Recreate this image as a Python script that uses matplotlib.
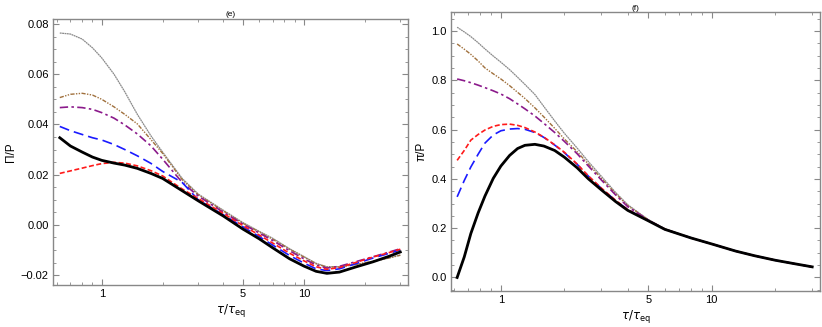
import matplotlib
matplotlib.use("Agg")
import matplotlib.pyplot as plt
from matplotlib.ticker import FixedLocator, NullFormatter, MultipleLocator

plt.rcParams["font.family"] = ["Liberation Sans", "DejaVu Sans"]
plt.rcParams["mathtext.fontset"] = "dejavusans"

# ---- panel (e): Pi/P ----
tau_e = [0.62, 0.7, 0.8, 0.9, 1.0, 1.15, 1.3, 1.5, 1.75, 2.0, 2.5, 3.0, 4.0, 5.0,
         6.0, 7.0, 8.5, 10, 11.5, 13, 15, 18, 22, 26, 30]
e_black = [0.0347, 0.0314, 0.0290, 0.0270, 0.0257, 0.0246, 0.0238, 0.0225, 0.0205, 0.0185,
           0.0136, 0.0096, 0.0035, -0.0017, -0.0055, -0.0091, -0.0135, -0.0164, -0.0185,
           -0.0193, -0.0188, -0.0168, -0.0147, -0.0127, -0.0108]
e_red = [0.0205, 0.0215, 0.0226, 0.0236, 0.0244, 0.0249, 0.0246, 0.0235, 0.0216, 0.0195,
         0.0143, 0.0105, 0.0045, -0.0003, -0.0040, -0.0072, -0.0113, -0.0143, -0.0167,
         -0.0177, -0.0170, -0.0150, -0.0128, -0.0112, -0.0097]
e_blue = [0.0392, 0.0375, 0.0360, 0.0347, 0.0338, 0.0320, 0.0300, 0.0275, 0.0245, 0.0213,
          0.0169, 0.0100, 0.0040, -0.0008, -0.0046, -0.0080, -0.0122, -0.0152, -0.0175,
          -0.0182, -0.0175, -0.0155, -0.0132, -0.0115, -0.0100]
e_purple = [0.0467, 0.0470, 0.0467, 0.0460, 0.0447, 0.0425, 0.0398, 0.0362, 0.0315, 0.0262,
            0.0169, 0.0115, 0.0050, 0.0003, -0.0032, -0.0062, -0.0103, -0.0135, -0.0160,
            -0.0172, -0.0165, -0.0147, -0.0127, -0.0110, -0.0095]
e_brown = [0.0507, 0.0520, 0.0524, 0.0517, 0.0500, 0.0470, 0.0440, 0.0402, 0.0340, 0.0285,
           0.0180, 0.0120, 0.0055, 0.0006, -0.0028, -0.0057, -0.0097, -0.0128, -0.0155,
           -0.0168, -0.0167, -0.0158, -0.0145, -0.0133, -0.0121]
e_gray = [0.0764, 0.0760, 0.0740, 0.0705, 0.0665, 0.0600, 0.0530, 0.0440, 0.0355, 0.0290,
          0.0185, 0.0123, 0.0058, 0.0009, -0.0025, -0.0053, -0.0095, -0.0126, -0.0153,
          -0.0167, -0.0167, -0.0158, -0.0146, -0.0133, -0.0120]

# ---- panel (f): pi/P ----
tau_f = [0.62, 0.67, 0.72, 0.78, 0.84, 0.92, 1.0, 1.1, 1.2, 1.3, 1.45, 1.6, 1.8, 2.0,
         2.3, 2.6, 3.0, 3.5, 4.0, 5.0, 6.0, 8.0, 10, 13, 16, 20, 25, 30]
f_black = [0.0, 0.083, 0.178, 0.262, 0.330, 0.402, 0.452, 0.495, 0.523, 0.536, 0.540, 0.533,
           0.515, 0.488, 0.445, 0.400, 0.355, 0.308, 0.272, 0.230, 0.195, 0.160, 0.136,
           0.107, 0.088, 0.070, 0.055, 0.043]
f_red = [0.475, 0.515, 0.557, 0.580, 0.598, 0.613, 0.620, 0.622, 0.617, 0.608, 0.590, 0.569,
         0.538, 0.508, 0.460, 0.412, 0.362, 0.313, 0.275, 0.231, 0.195, 0.160, 0.136,
         0.107, 0.088, 0.070, 0.055, 0.043]
f_blue = [0.327, 0.393, 0.448, 0.500, 0.545, 0.578, 0.595, 0.602, 0.604, 0.601, 0.588, 0.568,
          0.537, 0.506, 0.459, 0.411, 0.361, 0.312, 0.275, 0.231, 0.195, 0.160, 0.136,
          0.107, 0.088, 0.070, 0.055, 0.043]
f_purple = [0.805, 0.798, 0.790, 0.780, 0.770, 0.757, 0.744, 0.725, 0.704, 0.684, 0.655, 0.625,
            0.588, 0.552, 0.502, 0.452, 0.395, 0.335, 0.287, 0.233, 0.196, 0.160, 0.136,
            0.107, 0.088, 0.070, 0.055, 0.043]
f_brown = [0.947, 0.926, 0.905, 0.878, 0.850, 0.826, 0.805, 0.778, 0.751, 0.726, 0.688, 0.651,
           0.605, 0.562, 0.510, 0.460, 0.402, 0.340, 0.291, 0.234, 0.197, 0.160, 0.136,
           0.107, 0.088, 0.070, 0.055, 0.043]
f_gray = [1.015, 0.996, 0.977, 0.952, 0.927, 0.898, 0.873, 0.843, 0.812, 0.783, 0.742, 0.693,
          0.635, 0.585, 0.525, 0.470, 0.410, 0.345, 0.295, 0.235, 0.197, 0.160, 0.136,
          0.107, 0.088, 0.070, 0.055, 0.043]

styles = [
    ("gray", dict(color="#8a8a8a", lw=0.9, ls=(0, (1.5, 0.4)))),
    ("brown", dict(color="#a0703c", lw=1.0, ls=(0, (3, 1, 1, 1, 1, 1)))),
    ("purple", dict(color="#8b1a8b", lw=1.2, ls=(0, (5, 2, 1.5, 2)))),
    ("blue", dict(color="#1a1aff", lw=1.2, ls=(0, (6, 3)))),
    ("red", dict(color="#ff1a1a", lw=1.2, ls=(0, (3, 1.5)))),
    ("black", dict(color="black", lw=2.0, ls="-")),
]

fig = plt.figure(figsize=(8.22, 3.27), dpi=100)
ax1 = fig.add_axes([0.0645, 0.128, 0.432, 0.814])
ax2 = fig.add_axes([0.5487, 0.110, 0.449, 0.852])

data_e = dict(gray=e_gray, brown=e_brown, purple=e_purple, blue=e_blue, red=e_red, black=e_black)
data_f = dict(gray=f_gray, brown=f_brown, purple=f_purple, blue=f_blue, red=f_red, black=f_black)

for name, st in styles:
    ax1.plot(tau_e, data_e[name], **st)
    ax2.plot(tau_f, data_f[name], **st)

minor_x = [0.6, 0.7, 0.8, 0.9, 2, 3, 4, 6, 7, 8, 9, 20, 30]
for ax in (ax1, ax2):
    ax.set_xscale("log")
    ax.xaxis.set_major_locator(FixedLocator([1, 5, 10]))
    ax.xaxis.set_minor_locator(FixedLocator(minor_x))
    ax.xaxis.set_minor_formatter(NullFormatter())
    ax.set_xticklabels(["1", "5", "10"])
    ax.tick_params(which="both", direction="in", top=True, right=True,
                   color="#888888", labelsize=8, pad=3)
    ax.tick_params(which="major", length=4, width=0.8)
    ax.tick_params(which="minor", length=2.2, width=0.6)
    for s in ax.spines.values():
        s.set_color("#888888")
        s.set_linewidth(1.0)
    ax.set_xlabel(r"$\tau/\tau_{\rm eq}$", fontsize=8.5, labelpad=2)

ax1.set_xlim(0.574, 32.8)
ax1.set_ylim(-0.024, 0.082)
ax1.yaxis.set_major_locator(MultipleLocator(0.02))
ax1.yaxis.set_minor_locator(MultipleLocator(0.005))
ax1.yaxis.set_major_formatter(plt.FuncFormatter(lambda v, p: ("\u2212%.2f" % -v) if v < -1e-9 else "%.2f" % abs(v)))
ax1.set_ylabel("\u03a0/P", fontsize=8.5, labelpad=3)
ax1.set_title("(e)", fontsize=6, pad=2)

ax2.set_xlim(0.58, 32.7)
ax2.set_ylim(-0.055, 1.075)
ax2.yaxis.set_major_locator(MultipleLocator(0.2))
ax2.yaxis.set_minor_locator(MultipleLocator(0.05))
ax2.yaxis.set_major_formatter(plt.FuncFormatter(lambda v, p: "%.1f" % abs(v) if abs(v) < 1e-9 else "%.1f" % v))
ax2.set_ylabel("\u03c0/P", fontsize=8.5, labelpad=3)
ax2.set_title("(f)", fontsize=6, pad=1)

fig.savefig("out.png", dpi=100)
